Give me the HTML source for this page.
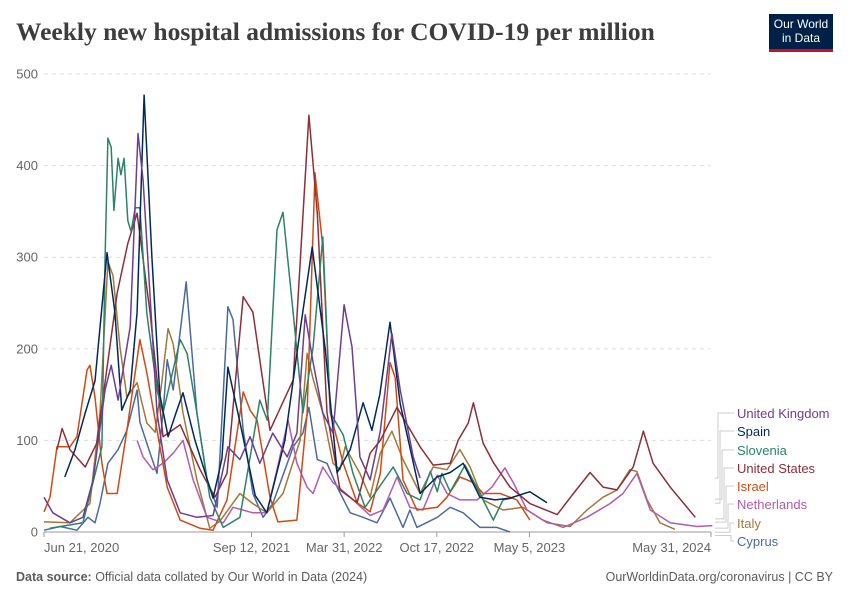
<!DOCTYPE html>
<html><head><meta charset="utf-8">
<style>
body{margin:0;background:#fff;font-family:"Liberation Sans",sans-serif;}
#wrap{position:relative;width:850px;height:600px;overflow:hidden;}
.title{position:absolute;left:16px;top:17px;font-family:"Liberation Serif",serif;font-weight:bold;font-size:25.5px;letter-spacing:0px;color:#3d3d3d;white-space:nowrap;}
.logo{position:absolute;left:769px;top:14px;width:64px;background:#002147;border-bottom:3px solid #c8102e;color:#fff;font-size:12px;line-height:14px;text-align:center;padding-top:3px;height:32px;}
.foot{position:absolute;top:570px;font-size:12.5px;color:#5b5b5b;}
</style></head><body>
<div id="wrap">
<div class="title">Weekly new hospital admissions for COVID-19 per million</div>
<div class="logo">Our World<br>in Data</div>
<svg id="chart" width="850" height="600" style="position:absolute;left:0;top:0"></svg>
<div class="foot" style="left:16px"><b>Data source:</b> Official data collated by Our World in Data (2024)</div>
<div class="foot" style="right:17px">OurWorldinData.org/coronavirus | CC BY</div>
</div>
<script>
// day offsets since Jun 21, 2020 and values per million
const yTicks=[0,100,200,300,400,500];
const xTickDays=[0,448,648,848,1048,1440];
const xTickLabels=["Jun 21, 2020","Sep 12, 2021","Mar 31, 2022","Oct 17, 2022","May 5, 2023","May 31, 2024"];
const seriesNames=["United Kingdom","Spain","Slovenia","United States","Israel","Netherlands","Italy","Cyprus"];
const seriesColors=["#6d3e91","#00295b","#2c8465","#8c2f39","#cf4b13","#b05cb0","#a2793a","#4c6a9c"];
const ukDays=[0,19,56,84,106,132,145,160,186,203,214,229,244,266,294,330,365,397,423,445,466,494,525,546,564,581,602,624,648,665,682,704,726,751,769,797,812];
const ukVals=[38,21,10,16,57,155,182,144,224,435,384,257,130,57,21,16,18,93,79,104,75,108,82,108,237,185,130,108,248,202,82,57,110,217,155,82,59];
const esDays=[45,67,89,110,136,153,168,186,201,216,233,250,268,285,300,326,365,384,397,423,456,481,520,553,579,607,633,661,689,708,725,747,769,812,848,877,905,941,974,1006,1049,1086];
const esVals=[60,90,130,165,305,240,133,155,240,477,300,150,104,130,152,100,37,80,180,120,40,21,100,220,311,200,65,90,141,111,150,229,140,42,60,65,75,38,35,37,44,32];
const siDays=[13,84,125,132,138,145,151,160,166,173,181,188,197,207,222,244,257,294,309,330,358,387,423,466,482,503,516,538,559,581,602,618,646,667,693,754,784,812,834,849,859,877,909,941,970,991,1010];
const siVals=[4,10,93,300,430,420,351,408,390,408,340,328,354,354,239,155,130,210,195,130,38,5,16,144,122,330,349,239,130,202,322,130,106,64,27,71,42,35,66,44,64,44,73,42,13,35,37];
const usDays=[28,39,56,89,114,158,181,201,229,257,294,337,369,395,430,451,488,538,572,590,611,639,676,704,726,762,812,840,877,894,916,927,948,970,1006,1049,1108,1143,1179,1207,1237,1272,1294,1315,1352,1406];
const usVals=[90,113,90,71,97,261,315,348,239,104,117,68,38,64,257,240,111,166,455,348,130,46,32,86,100,136,93,73,75,100,119,141,97,76,49,31,19,42,65,49,46,71,110,75,49,16];
const ilDays=[0,13,28,56,71,93,99,110,125,136,158,179,207,222,235,266,294,337,365,395,430,445,460,488,505,546,568,585,602,618,646,676,704,726,747,758,775,805,849,870,898,913,927,948,985,1021,1049];
const ilVals=[22,38,93,93,104,177,182,147,75,42,42,111,210,174,136,49,13,4,2,35,153,133,122,38,11,13,130,392,311,130,75,32,22,64,185,169,57,24,27,38,60,57,54,42,42,35,13];
const nlDays=[201,214,235,257,279,300,322,352,387,408,451,481,503,527,546,568,581,602,624,661,704,732,762,790,818,849,870,898,935,967,995,1013,1043,1077,1121,1172,1222,1250,1280,1309,1352,1410,1443];
const nlVals=[100,82,68,75,86,100,57,16,10,27,21,21,68,122,75,49,42,71,54,38,18,24,60,27,24,62,42,35,35,49,70,54,24,13,5,16,31,42,64,24,10,6,7];
const itDays=[0,56,99,121,138,149,164,179,201,222,240,255,268,279,300,330,358,380,423,451,481,516,553,568,581,602,624,639,650,682,704,726,751,775,812,840,870,898,920,948,991,1034,1086,1136,1172,1207,1237,1265,1280,1302,1330,1362];
const itVals=[11,10,31,130,295,280,202,147,163,119,109,166,222,205,130,57,4,12,42,31,21,42,100,195,167,130,75,68,93,64,38,86,110,79,42,71,68,90,71,35,24,27,10,6,24,38,46,68,66,35,10,3];
const cyDays=[0,35,71,95,110,121,138,160,179,201,207,229,244,257,266,279,307,330,352,374,397,408,430,451,473,494,538,559,572,590,611,633,661,689,719,747,775,790,805,849,877,905,941,978,1006];
const cyVals=[2,6,2,16,10,31,75,90,111,155,120,86,64,130,188,155,273,130,57,27,246,232,111,42,16,31,93,108,136,79,75,49,21,16,10,37,5,24,5,16,27,21,5,5,0];
const seriesDays=[ukDays,esDays,siDays,usDays,ilDays,nlDays,itDays,cyDays];
const seriesVals=[ukVals,esVals,siVals,usVals,ilVals,nlVals,itVals,cyVals];

const X0=44,X1=711,Y0=532,Y1=74,DMAX=1440,VMAX=500;
function xs(d){return X0+(X1-X0)*d/DMAX;}
function ys(v){return Y0-(Y0-Y1)*v/VMAX;}
const svg=document.getElementById('chart');
const NS='http://www.w3.org/2000/svg';
function mk(tag,attrs,parent){const e=document.createElementNS(NS,tag);for(const k in attrs)e.setAttribute(k,attrs[k]);(parent||svg).appendChild(e);return e;}

yTicks.forEach(t=>{
  if(t>0){const g=mk('line',{x1:X0,x2:X1,y1:ys(t),y2:ys(t),stroke:'#ddd','stroke-dasharray':'4,4'});
  
  }
  const tx=mk('text',{x:38,y:ys(t)+4.5,'text-anchor':'end','font-size':'13',fill:'#666','font-family':'Liberation Sans, sans-serif'});
  tx.textContent=t;
  
  
});
const ax=mk('line',{x1:X0,x2:X1,y1:Y0,y2:Y0,stroke:'#999'});


xTickDays.forEach((d,i)=>{
  mk('line',{x1:xs(d),x2:xs(d),y1:Y0,y2:Y0+5,stroke:'#999'});
  const anchor=i==0?'start':(i==xTickDays.length-1?'end':'middle');
  const tx=mk('text',{x:xs(d),y:552,'text-anchor':anchor,'font-size':'13',fill:'#666','font-family':'Liberation Sans, sans-serif'});
  tx.textContent=xTickLabels[i];
  
  
});
for(let s=seriesNames.length-1;s>=0;s--){
  const pts=seriesDays[s].map((d,i)=>xs(d).toFixed(1)+','+ys(seriesVals[s][i]).toFixed(1)).join(' ');
  const p=mk('polyline',{points:pts,fill:'none',stroke:seriesColors[s],'stroke-width':'1.5','stroke-linejoin':'round'});
  
  
}
// legend
const legendY=[417,435,454,472,490,508,527,545];
const connX=[718,720,722,724,726,728,730,731];
seriesNames.forEach((n,i)=>{
  const lastV=seriesVals[i][seriesVals[i].length-1];
  const ly=legendY[i]+1;
  const endY=Math.max(ys(lastV),460);
  mk('polyline',{points:`${X1+4},${endY+i*0.5} ${connX[i]},${endY+i*0.5} ${connX[i]},${ly-5} ${734},${ly-5}`,fill:'none',stroke:'#ccc','stroke-width':'1'});
  const tx=mk('text',{x:737,y:ly,'font-size':'13',fill:seriesColors[i],'font-family':'Liberation Sans, sans-serif'});
  tx.textContent=n;
  
  
});
</script>
</body></html>
